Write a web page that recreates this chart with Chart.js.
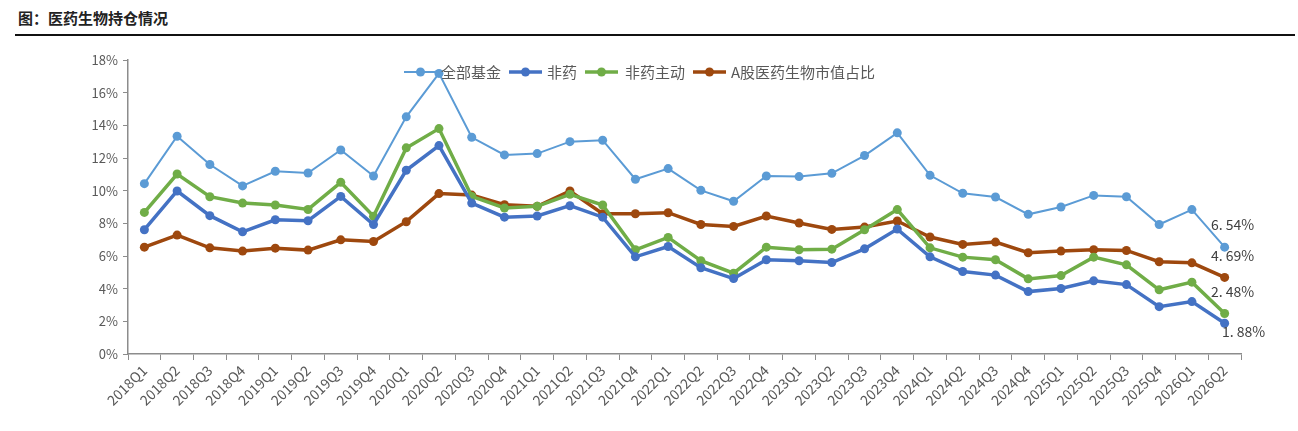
<!DOCTYPE html>
<html>
<head>
<meta charset="utf-8">
<script src="https://cdn.jsdelivr.net/npm/chart.js@4.4.1/dist/chart.umd.min.js"></script>
<style>
  html, body { margin: 0; padding: 0; background: #fff; }
  #wrap { position: relative; width: 1298px; height: 431px; }
  #title {
    position: absolute; left: 18px; top: 7px;
    font: bold 15px "Noto Sans CJK SC", sans-serif; color: #222;
  }
  #rule { position: absolute; left: 15px; top: 34px; width: 1280px; height: 2px; background: #111; }
  canvas { position: absolute; left: 0; top: 0; }
</style>
</head>
<body>
<div id="wrap">
  <div id="title">图：医药生物持仓情况</div>
  <div id="rule"></div>
  <canvas id="chart" width="1298" height="431"></canvas>
</div>
<script>
const quarters = [
  "2018Q1", "2018Q2", "2018Q3", "2018Q4", "2019Q1", "2019Q2", "2019Q3", "2019Q4",
  "2020Q1", "2020Q2", "2020Q3", "2020Q4", "2021Q1", "2021Q2", "2021Q3", "2021Q4",
  "2022Q1", "2022Q2", "2022Q3", "2022Q4", "2023Q1", "2023Q2", "2023Q3", "2023Q4",
  "2024Q1", "2024Q2", "2024Q3", "2024Q4", "2025Q1", "2025Q2", "2025Q3", "2025Q4",
  "2026Q1", "2026Q2"
];

const seriesNames = ["全部基金", "非药", "非药主动", "A股医药生物市值占比"];

const allFunds = [10.43, 13.33, 11.60, 10.29, 11.19, 11.08, 12.49, 10.90, 14.52, 17.18, 13.27, 12.19, 12.27, 13.00, 13.09, 10.70, 11.35, 10.02, 9.35, 10.90, 10.86, 11.06, 12.15, 13.54, 10.94, 9.84, 9.61, 8.55, 9.00, 9.71, 9.63, 7.93, 8.84, 6.54];
const nonPharma = [7.61, 9.98, 8.47, 7.48, 8.22, 8.16, 9.65, 7.93, 11.25, 12.76, 9.24, 8.38, 8.45, 9.08, 8.38, 5.95, 6.58, 5.28, 4.62, 5.77, 5.71, 5.60, 6.44, 7.65, 5.95, 5.05, 4.83, 3.82, 4.01, 4.48, 4.25, 2.90, 3.21, 1.88];
const nonPharmaActive = [8.67, 11.02, 9.63, 9.24, 9.12, 8.85, 10.51, 8.43, 12.62, 13.80, 9.65, 8.94, 9.04, 9.78, 9.12, 6.38, 7.14, 5.71, 4.95, 6.54, 6.38, 6.42, 7.61, 8.84, 6.50, 5.93, 5.77, 4.60, 4.80, 5.93, 5.46, 3.93, 4.40, 2.48];
const marketShare = [6.54, 7.28, 6.50, 6.30, 6.48, 6.36, 6.99, 6.89, 8.10, 9.82, 9.73, 9.14, 9.04, 9.98, 8.59, 8.59, 8.65, 7.93, 7.81, 8.45, 8.02, 7.63, 7.77, 8.14, 7.16, 6.71, 6.85, 6.20, 6.30, 6.38, 6.34, 5.65, 5.58, 4.69];

const endLabels = ["6. 54%", "1. 88%", "2. 48%", "4. 69%"];

const colors = ["#5b9bd5", "#4472c4", "#70ad47", "#9e480e"];
const widths = [2, 3.5, 3.5, 3.5];

const font = "\"Noto Sans CJK SC\", \"Noto Sans\", sans-serif";
const axisGray = "#8c8c8c";
const textGray = "#595959";

// legend drawn inside the plot area, like the original
const legendPlugin = {
  id: "innerLegend",
  afterDatasetsDraw(chart) {
    const ctx = chart.ctx;
    const items = [
      { x: 404, tx: 441 },
      { x: 509, tx: 547 },
      { x: 585, tx: 625 },
      { x: 693, tx: 731 }
    ];
    const y = 72;
    ctx.save();
    ctx.font = "15px " + font;
    ctx.textBaseline = "middle";
    items.forEach((it, i) => {
      ctx.strokeStyle = colors[i];
      ctx.lineWidth = widths[i];
      ctx.beginPath();
      ctx.moveTo(it.x, y);
      ctx.lineTo(it.x + 33, y);
      ctx.stroke();
      ctx.fillStyle = colors[i];
      ctx.beginPath();
      ctx.arc(it.x + 16.5, y, 4.5, 0, Math.PI * 2);
      ctx.fill();
      ctx.fillStyle = textGray;
      ctx.fillText(seriesNames[i], it.tx, y);
    });
    ctx.restore();
  }
};

// value labels next to the last point of each line
const endLabelPlugin = {
  id: "endLabels",
  afterDatasetsDraw(chart) {
    const ctx = chart.ctx;
    const offsets = [[8, -22], [19, 8], [8, -22], [8, -22]];
    ctx.save();
    ctx.font = "14px " + font;
    ctx.fillStyle = "#404040";
    ctx.textAlign = "center";
    ctx.textBaseline = "middle";
    chart.data.datasets.forEach((ds, i) => {
      const meta = chart.getDatasetMeta(i);
      const pt = meta.data[meta.data.length - 1];
      ctx.fillText(endLabels[i], pt.x + offsets[i][0], pt.y + offsets[i][1]);
    });
    ctx.restore();
  }
};

const seriesData = [allFunds, nonPharma, nonPharmaActive, marketShare];

new Chart(document.getElementById("chart"), {
  type: "line",
  data: {
    labels: quarters,
    datasets: seriesData.map((d, i) => ({
      label: seriesNames[i],
      data: d,
      borderColor: colors[i],
      backgroundColor: colors[i],
      borderWidth: widths[i],
      pointRadius: 4.5,
      pointBorderWidth: 0,
      pointBackgroundColor: colors[i],
      tension: 0,
      order: i === 0 ? 4 : i
    }))
  },
  options: {
    responsive: false,
    animation: false,
    layout: { padding: { left: 0, top: 60, right: 57, bottom: 0 } },
    plugins: {
      legend: { display: false },
      tooltip: { enabled: false }
    },
    scales: {
      x: {
        offset: true,
        afterFit: s => { s.height = 77; },
        border: { color: axisGray, width: 1.5 },
        grid: {
          display: true,
          drawOnChartArea: false,
          drawTicks: true,
          tickLength: 6,
          offset: true,
          color: axisGray
        },
        ticks: {
          color: textGray,
          font: { family: font, size: 14 },
          minRotation: 45,
          maxRotation: 45,
          autoSkip: false,
          padding: 2
        }
      },
      y: {
        min: 0,
        max: 18,
        afterFit: s => { s.width = 128; },
        border: { color: axisGray, width: 1.5 },
        grid: {
          display: true,
          drawOnChartArea: false,
          drawTicks: true,
          tickLength: 5,
          color: axisGray
        },
        ticks: {
          stepSize: 2,
          color: textGray,
          font: { family: font, size: 13 },
          padding: 5,
          callback: v => v + "%"
        }
      }
    }
  },
  plugins: [legendPlugin, endLabelPlugin]
});
</script>
</body>
</html>
